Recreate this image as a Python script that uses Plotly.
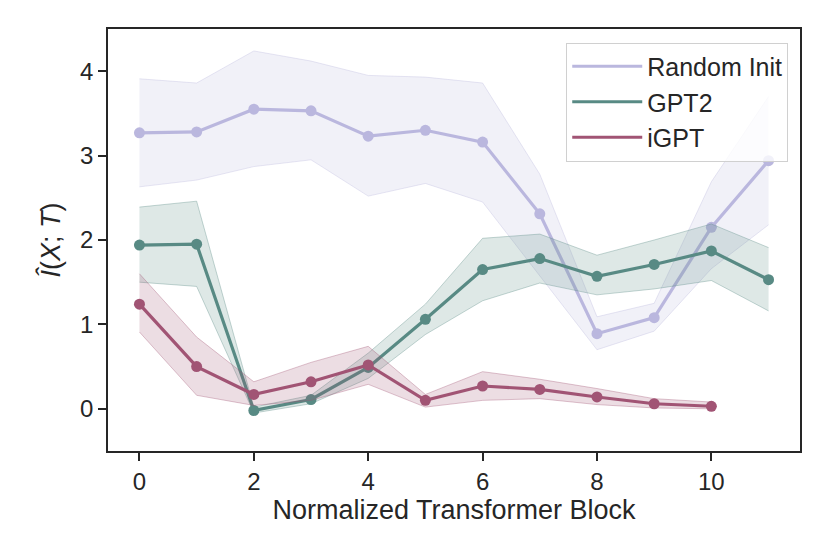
import plotly.graph_objects as go

blocks = list(range(12))

rand_mean = [3.27, 3.28, 3.55, 3.53, 3.23, 3.30, 3.16, 2.31, 0.89, 1.08, 2.15, 2.94]
rand_upper = [3.91, 3.86, 4.24, 4.12, 3.95, 3.93, 3.86, 2.78, 1.09, 1.25, 2.69, 3.70]
rand_lower = [2.63, 2.71, 2.87, 2.95, 2.52, 2.67, 2.45, 1.58, 0.70, 0.92, 1.66, 2.18]

gpt2_mean = [1.94, 1.95, -0.02, 0.11, 0.49, 1.06, 1.65, 1.78, 1.57, 1.71, 1.87, 1.53]
gpt2_upper = [2.39, 2.46, 0.02, 0.16, 0.66, 1.24, 2.02, 2.07, 1.82, 2.00, 2.19, 1.91]
gpt2_lower = [1.50, 1.45, -0.05, 0.06, 0.36, 0.88, 1.28, 1.49, 1.35, 1.42, 1.52, 1.16]

igpt_x = list(range(11))
igpt_mean = [1.24, 0.50, 0.17, 0.32, 0.52, 0.10, 0.27, 0.23, 0.14, 0.06, 0.03]
igpt_upper = [1.60, 0.85, 0.32, 0.55, 0.74, 0.17, 0.44, 0.35, 0.24, 0.12, 0.08]
igpt_lower = [0.91, 0.16, 0.04, 0.10, 0.29, 0.02, 0.10, 0.12, 0.05, 0.01, 0.00]

series = [
    ("Random Init", blocks, rand_mean, rand_upper, rand_lower, (186, 183, 222)),
    ("GPT2", blocks, gpt2_mean, gpt2_upper, gpt2_lower, (88, 138, 132)),
    ("iGPT", igpt_x, igpt_mean, igpt_upper, igpt_lower, (161, 84, 116)),
]

x_ticks = [0, 2, 4, 6, 8, 10]
y_ticks = [0, 1, 2, 3, 4]

TXT = "#262626"
FONT = "Liberation Sans, Arial, sans-serif"

fig = go.Figure()
for i, (name, xs, m, up, lo, c) in enumerate(series):
    r, g, b = c
    fig.add_trace(go.Scatter(
        x=xs, y=lo, mode="lines",
        line=dict(color=f"rgba({r},{g},{b},0.35)", width=1),
        showlegend=False, hoverinfo="skip"))
    fig.add_trace(go.Scatter(
        x=xs, y=up, mode="lines", fill="tonexty",
        fillcolor=f"rgba({r},{g},{b},0.2)",
        line=dict(color=f"rgba({r},{g},{b},0.35)", width=1),
        showlegend=False, hoverinfo="skip"))
    fig.add_trace(go.Scatter(
        x=xs, y=m, mode="lines", name=name,
        legendgroup=f"g{i}",
        line=dict(color=f"rgb({r},{g},{b})", width=3.2)))
    fig.add_trace(go.Scatter(
        x=xs, y=m, mode="markers", name=name,
        legendgroup=f"g{i}", showlegend=False,
        marker=dict(color=f"rgb({r},{g},{b})", size=11)))

fig.update_layout(
    width=830, height=554,
    margin=dict(l=100, r=38, t=21, b=111),
    paper_bgcolor="white", plot_bgcolor="white",
    font=dict(family=FONT, color=TXT, size=24),
    legend=dict(
        x=0.983, y=0.968, xanchor="right", yanchor="top",
        bgcolor="rgba(255,255,255,0.8)", bordercolor="#d0d0d0", borderwidth=1,
        font=dict(size=25, family=FONT, color=TXT),
        tracegroupgap=0, itemwidth=70,
    ),
)
fig.update_xaxes(
    range=[-0.55, 11.55], tickvals=x_ticks, ticktext=[str(v) for v in x_ticks],
    showgrid=False, zeroline=False,
    showline=True, linecolor=TXT, linewidth=1.5, mirror=True,
    ticks="outside", ticklen=8, tickwidth=1.5, tickcolor=TXT,
    tickfont=dict(size=24),
    title=dict(text="Normalized Transformer Block", font=dict(size=27), standoff=6),
)
fig.update_yaxes(
    range=[-0.5, 4.5], tickvals=y_ticks, ticktext=[str(v) for v in y_ticks],
    showgrid=False, zeroline=False,
    showline=True, linecolor=TXT, linewidth=1.5, mirror=True,
    ticks="outside", ticklen=8, tickwidth=1.5, tickcolor=TXT,
    tickfont=dict(size=24),
    title=dict(text="<i>Î</i>(<i>X</i>; <i>T</i>)", font=dict(size=27), standoff=12),
)

fig.write_html("out.html")
